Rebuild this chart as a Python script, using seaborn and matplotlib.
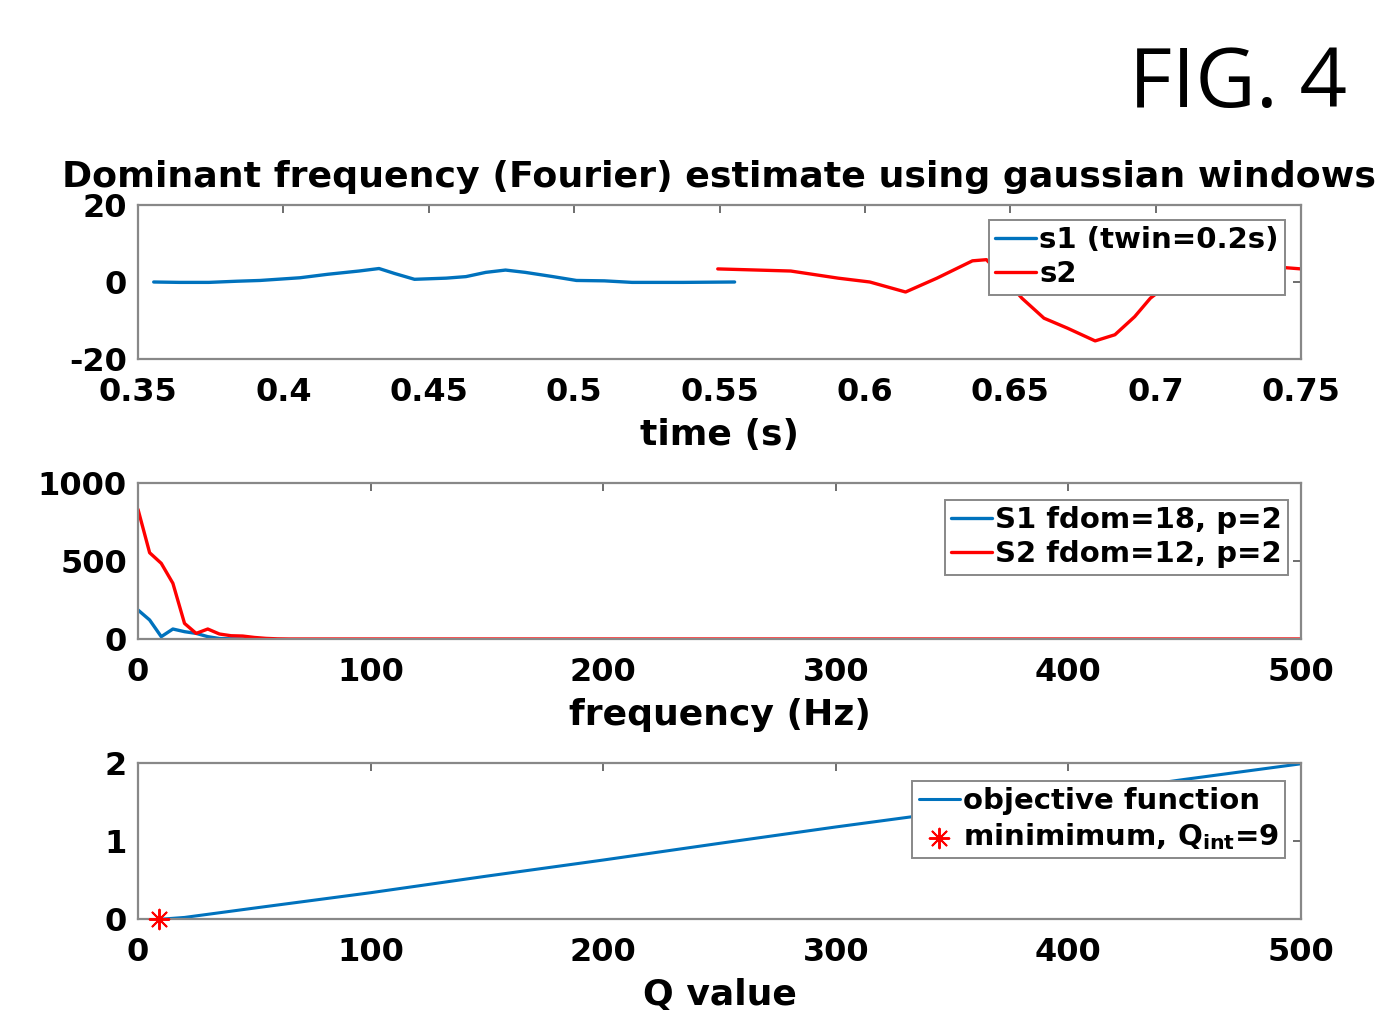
import numpy as np
import pandas as pd
import matplotlib
matplotlib.use("Agg")
import matplotlib.pyplot as plt
import seaborn as sns

# ---------------- data ----------------
s1_time = [0.3554, 0.3642, 0.3744, 0.384, 0.392, 0.4057, 0.4152, 0.426, 0.4329, 0.4383,
           0.4451, 0.456, 0.4628, 0.4696, 0.4764, 0.4832, 0.4927, 0.5008, 0.5104, 0.5199,
           0.5375, 0.5552]
s1_freq = [0.0, -0.1, -0.1, 0.2, 0.4, 1.1, 2.0, 2.85, 3.5, 2.2,
           0.7, 1.0, 1.4, 2.5, 3.1, 2.5, 1.4, 0.4, 0.3, -0.1,
           -0.1, 0.0]
s2_time = [0.5494, 0.5745, 0.5908, 0.6017, 0.614, 0.6248, 0.637, 0.6418, 0.648, 0.654,
           0.6616, 0.6697, 0.6792, 0.686, 0.6928, 0.6982, 0.708, 0.72, 0.733, 0.745, 0.75]
s2_freq = [3.4, 2.85, 1.0, 0.0, -2.6, 1.0, 5.5, 5.8, 1.0, -4.2,
           -9.4, -12.0, -15.3, -13.7, -9.0, -4.2, 1.5, 3.8, 4.0, 3.7, 3.4]

spec_f1 = [0, 5, 10, 15, 20, 25, 30, 35, 40, 45, 50]
spec_a1 = [186, 122, 15, 64, 47, 36, 15, 3, 1, 0, 0]
spec_f2 = [0, 5, 10, 15, 20, 25, 30, 35, 40, 45, 50, 55, 60, 65, 500]
spec_a2 = [831, 553, 485, 357, 100, 36, 64, 32, 21, 19, 10, 4, 1, 0, 0]

q_values = [11, 20, 50, 100, 150, 200, 250, 300, 350, 400, 450, 500]
obj_values = [0.0, 0.02, 0.14, 0.337, 0.55, 0.756, 0.97, 1.18, 1.38, 1.58, 1.79, 1.99]
q_min = [9]
obj_min = [0.0]

time_ticks = [0.35, 0.4, 0.45, 0.5, 0.55, 0.6, 0.65, 0.7, 0.75]
time_ticklabels = ["0.35", "0.4", "0.45", "0.5", "0.55", "0.6", "0.65", "0.7", "0.75"]
freq_yticks = [-20, 0, 20]
spec_xticks = [0, 100, 200, 300, 400, 500]
spec_yticks = [0, 500, 1000]
q_xticks = [0, 100, 200, 300, 400, 500]
q_yticks = [0, 1, 2]

title_text = "Dominant frequency (Fourier) estimate using gaussian windows"
BLUE = "#0072BD"
RED = "#FF0000"

# ---------------- style ----------------
sns.set_style("white")
plt.rcParams["font.family"] = ["DejaVu Sans"]
plt.rcParams["font.weight"] = "bold"
plt.rcParams["mathtext.fontset"] = "dejavusans"
plt.rcParams["mathtext.default"] = "bf"
plt.rcParams["axes.unicode_minus"] = False
plt.rcParams["text.color"] = "black"
plt.rcParams["axes.labelcolor"] = "black"
plt.rcParams["xtick.color"] = "black"
plt.rcParams["ytick.color"] = "black"

W, H = 1376, 1010
fig = plt.figure(figsize=(W / 100, H / 100), dpi=100)

def frac_box(left, top, right, bottom):
    return [left / W, 1 - bottom / H, (right - left) / W, (bottom - top) / H]

ax1 = fig.add_axes(frac_box(138, 205, 1301, 359))
ax2 = fig.add_axes(frac_box(138, 483, 1301, 639))
ax3 = fig.add_axes(frac_box(138, 763, 1301, 919))

TICK_FS = 23
LAB_FS = 26
LEG_FS = 21

def style_axis(ax):
    for sp in ax.spines.values():
        sp.set_color("#888888")
        sp.set_linewidth(1.6)
        sp.set_visible(True)
    ax.tick_params(direction="in", length=6, width=1.2, color="#555555",
                   top=True, right=True, labelsize=TICK_FS, pad=13, labelcolor="black")
    ax.tick_params(axis="y", pad=8)
    for lbl in ax.get_xticklabels() + ax.get_yticklabels():
        lbl.set_fontweight("bold")

# panel 1
sns.lineplot(x=s1_time, y=s1_freq, ax=ax1, color=BLUE, lw=2.4, label="s1 (twin=0.2s)",
             sort=False, estimator=None)
sns.lineplot(x=s2_time, y=s2_freq, ax=ax1, color=RED, lw=2.4, label="s2",
             sort=False, estimator=None)
ax1.set_xlim(0.35, 0.75)
ax1.set_ylim(-20, 20)
ax1.set_xticks(time_ticks)
ax1.set_xticklabels(time_ticklabels)
ax1.set_yticks(freq_yticks)
ax1.set_xlabel("time (s)", fontsize=LAB_FS, fontweight="bold", labelpad=7)
ax1.set_title(title_text, fontsize=26.2, fontweight="bold", pad=13, color="black")

# panel 2
sns.lineplot(x=spec_f1, y=spec_a1, ax=ax2, color=BLUE, lw=2.4, label="S1 fdom=18, p=2",
             sort=False, estimator=None)
sns.lineplot(x=spec_f2, y=spec_a2, ax=ax2, color=RED, lw=2.4, label="S2 fdom=12, p=2",
             sort=False, estimator=None)
ax2.set_xlim(0, 500)
ax2.set_ylim(0, 1000)
ax2.set_xticks(spec_xticks)
ax2.set_yticks(spec_yticks)
ax2.set_xlabel("frequency (Hz)", fontsize=LAB_FS, fontweight="bold", labelpad=7)

# panel 3
sns.lineplot(x=q_values, y=obj_values, ax=ax3, color=BLUE, lw=2.2, label="objective function",
             sort=False, estimator=None)
sns.scatterplot(x=q_min, y=obj_min, ax=ax3, color=RED, marker=(8, 2, 0), s=200,
                linewidth=1.4, edgecolor=RED, label=r"minimimum, $\mathbf{Q_{int}}$=9",
                zorder=5, clip_on=False)
ax3.set_xlim(0, 500)
ax3.set_ylim(0, 2)
ax3.set_xticks(q_xticks)
ax3.set_yticks(q_yticks)
ax3.set_xlabel("Q value", fontsize=LAB_FS, fontweight="bold", labelpad=7)

for ax in (ax1, ax2, ax3):
    ax.set_ylabel("")
    style_axis(ax)

leg_kw = dict(frameon=True, fancybox=False, framealpha=1,
              edgecolor="#888888", handlelength=1.4, handletextpad=0.1,
              borderpad=0.22, labelspacing=0.2, borderaxespad=0,
              prop={"weight": "bold", "size": LEG_FS})
lg1 = ax1.legend(loc="upper right", bbox_to_anchor=(0.9862, 0.9026), **leg_kw)
lg2 = ax2.legend(loc="upper right", bbox_to_anchor=(0.9888, 0.891), **leg_kw)
lg3 = ax3.legend(loc="upper right", bbox_to_anchor=(0.9862, 0.885), **leg_kw)
for lg in (lg1, lg2, lg3):
    lg.get_frame().set_linewidth(1.4)
    lg.set_zorder(10)
    for t in lg.get_texts():
        t.set_color("black")

fig.text(1347 / W, 1 - 107 / H, "FIG. 4", ha="right", va="baseline",
         fontsize=60, family="Open Sans", fontweight="normal", color="black")

fig.savefig("out.png", dpi=100, facecolor="white")
